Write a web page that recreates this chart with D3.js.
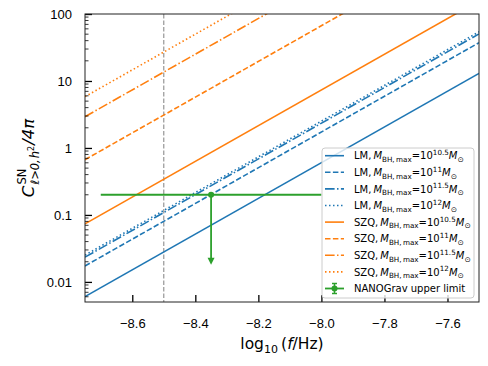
<!DOCTYPE html>
<html>
<head>
<meta charset="utf-8">
<script src="https://cdn.jsdelivr.net/npm/d3@7"></script>
<style>
  body { margin: 0; background: #fff; }
  svg { font-family: "DejaVu Sans", sans-serif; }
</style>
</head>
<body>
<div id="chart"></div>
<script>
// DATA ----------------------------------------------
// log10 f at both ends of the plotted range
const logF = [-8.75, -7.5];
// C at the two ends, for M_BH,max = 10^10.5, 10^11, 10^11.5, 10^12
const massExp = ["10.5", "11", "11.5", "12"];
const lmStart = [0.00604, 0.0173, 0.0234, 0.0251];
const lmEnd = [13.0, 37.3, 50.4, 54.2];
const szqStart = [0.0735, 0.668, 2.93, 5.83];
const szqEnd = [158, 1440, 6290, 12500];
// NANOGrav upper limit
const nanoF = -8.35, nanoC = 0.2, nanoFerr = [-8.70, -8.0], nanoArrowTo = 0.018;
const refLogF = -8.5;
const xTicks = [-8.6, -8.4, -8.2, -8.0, -7.8, -7.6];
const yTicks = [0.01, 0.1, 1, 10, 100];
const yTickLabels = ["0.01", "0.1", "1", "10", "100"];

// LAYOUT --------------------------------------------
const W = 488, H = 366;
const plot = {left: 85, right: 479, top: 14, bottom: 302};
const blue = "#1f77b4", orange = "#ff7f0e", green = "#2ca02c";
const dashes = ["", "5.5,2.4", "9.6,2.4,1.5,2.4", "1.5,2.5"];

const x = d3.scaleLinear().domain([-8.75, -7.5]).range([plot.left, plot.right]);
const y = d3.scaleLog().domain([Math.pow(10, -2.3), 100]).range([plot.bottom, plot.top]);

const svg = d3.select("#chart").append("svg")
    .attr("width", W).attr("height", H);

svg.append("clipPath").attr("id", "clip")
  .append("rect")
    .attr("x", plot.left).attr("y", plot.top)
    .attr("width", plot.right - plot.left).attr("height", plot.bottom - plot.top);

const g = svg.append("g").attr("clip-path", "url(#clip)");

// series lines
const series = [];
massExp.forEach((m, i) => series.push({name: "LM", m, color: blue, dash: dashes[i], p: [lmStart[i], lmEnd[i]]}));
massExp.forEach((m, i) => series.push({name: "SZQ", m, color: orange, dash: dashes[i], p: [szqStart[i], szqEnd[i]]}));

const line = d3.line().x(d => x(d[0])).y(d => y(d[1]));

// reference line at log f = -8.5
g.append("line")
    .attr("x1", x(refLogF)).attr("x2", x(refLogF))
    .attr("y1", plot.top).attr("y2", plot.bottom)
    .attr("stroke", "#808080").attr("stroke-width", 1)
    .attr("stroke-dasharray", "4.5,2");

g.selectAll("path.series")
  .data(series)
  .enter().append("path")
    .attr("class", "series")
    .attr("d", d => line(logF.map((f, k) => [f, d.p[k]])))
    .attr("fill", "none")
    .attr("stroke", d => d.color)
    .attr("stroke-width", 1.6)
    .attr("stroke-dasharray", d => d.dash);

// NANOGrav limit
const ng = g.append("g");
ng.append("line")
    .attr("x1", x(nanoFerr[0])).attr("x2", x(nanoFerr[1]))
    .attr("y1", y(nanoC)).attr("y2", y(nanoC))
    .attr("stroke", green).attr("stroke-width", 1.8);
ng.append("line")
    .attr("x1", x(nanoF)).attr("x2", x(nanoF))
    .attr("y1", y(nanoC)).attr("y2", y(nanoArrowTo) - 3)
    .attr("stroke", green).attr("stroke-width", 1.8);
ng.append("path")
    .attr("d", `M${x(nanoF) - 3.5},${y(nanoArrowTo) - 7} L${x(nanoF) + 3.5},${y(nanoArrowTo) - 7} L${x(nanoF)},${y(nanoArrowTo)} Z`)
    .attr("fill", green);
ng.append("circle")
    .attr("cx", x(nanoF)).attr("cy", y(nanoC)).attr("r", 3)
    .attr("fill", green);

// AXES ----------------------------------------------
const xAxis = d3.axisBottom(x).tickValues(xTicks)
    .tickSizeInner(-7).tickSizeOuter(0).tickPadding(17)
    .tickFormat(d3.format(".1f"));
const gx = svg.append("g").attr("transform", `translate(0,${plot.bottom})`).call(xAxis);
gx.select(".domain").remove();
gx.selectAll(".tick line").attr("stroke-width", 1.3);
gx.selectAll("text").attr("font-size", 13).attr("fill", "#000");

// y minor ticks
const minor = [];
for (let e = -3; e < 2; e++) for (let k = 2; k <= 9; k++) {
  const v = k * Math.pow(10, e);
  if (v >= y.domain()[0] && v <= 100) minor.push(v);
}
svg.append("g").selectAll("line")
  .data(minor).enter().append("line")
    .attr("x1", plot.left).attr("x2", plot.left + 3.5)
    .attr("y1", d => y(d)).attr("y2", d => y(d))
    .attr("stroke", "#000").attr("stroke-width", 0.8);

const yAxis = d3.axisLeft(y).tickValues(yTicks)
    .tickSizeInner(-7).tickSizeOuter(0).tickPadding(13)
    .tickFormat((d, i) => yTickLabels[i]);
const gy = svg.append("g").attr("transform", `translate(${plot.left},0)`).call(yAxis);
gy.select(".domain").remove();
gy.selectAll(".tick line").attr("stroke-width", 1.3);
gy.selectAll("text").attr("font-size", 13).attr("fill", "#000");

// frame
svg.append("rect")
    .attr("x", plot.left).attr("y", plot.top)
    .attr("width", plot.right - plot.left).attr("height", plot.bottom - plot.top)
    .attr("fill", "none").attr("stroke", "#222").attr("stroke-width", 1);

// x label: log10 (f/Hz)
const xl = svg.append("text")
    .attr("x", (plot.left + plot.right) / 2).attr("y", 349)
    .attr("text-anchor", "middle").attr("font-size", 15.5);
xl.append("tspan").text("log");
xl.append("tspan").attr("dy", 4).attr("font-size", 11).text("10");
xl.append("tspan").attr("dy", -4).text("\u2009(");
xl.append("tspan").attr("font-style", "italic").text("f");
xl.append("tspan").text("/Hz)");

// y label: C^SN_{l>0,h^2}/4pi, laid out piece by piece then rotated
const yl = svg.append("g")
    .attr("transform", `translate(34,${(plot.top + plot.bottom) / 2}) rotate(-90)`);
const pieces = [];
const addPiece = (txt, size, dy, italic) => {
  const t = yl.append("text").attr("font-size", size).attr("y", dy).text(txt);
  if (italic) t.attr("font-style", "italic");
  pieces.push(t);
  return t;
};
const cT = addPiece("C", 16.5, 0, true);
let cx = cT.node().getComputedTextLength() + 1;
const supT = addPiece("SN", 11.5, -8, false).attr("x", cx);
const subT = addPiece("\u2113>0,", 11.5, 5, true).attr("x", cx);
let sx = cx + subT.node().getComputedTextLength() + 1;
const hT = addPiece("h", 11.5, 5, true).attr("x", sx);
sx += hT.node().getComputedTextLength();
const h2 = addPiece("2", 8, 0, false).attr("x", sx);
sx += h2.node().getComputedTextLength() + 1;
const endX = Math.max(sx, cx + supT.node().getComputedTextLength());
const restT = addPiece("/4\u03c0", 16.5, 0, true).attr("x", endX);
const total = endX + restT.node().getComputedTextLength();
pieces.forEach(p => p.attr("x", +(p.attr("x") || 0) - total / 2));

// LEGEND --------------------------------------------
const leg = {x: 322, y: 148, w: 152, h: 150, row: 16.6, first: 155.7};
svg.append("rect")
    .attr("x", leg.x).attr("y", leg.y).attr("width", leg.w).attr("height", leg.h)
    .attr("rx", 3)
    .attr("fill", "#fff").attr("fill-opacity", 0.8)
    .attr("stroke", "#ccc").attr("stroke-width", 1);

const items = svg.append("g").selectAll("g")
  .data(series).enter().append("g")
    .attr("transform", (d, i) => `translate(0,${leg.first + i * leg.row})`);
items.append("line")
    .attr("x1", 325).attr("x2", 344)
    .attr("stroke", d => d.color).attr("stroke-width", 1.6)
    .attr("stroke-dasharray", d => d.dash);
const lt = items.append("text").attr("x", 354).attr("y", 3.7).attr("font-size", 10);
lt.append("tspan").text(d => d.name + ",\u2009");
lt.append("tspan").attr("font-style", "italic").text("M");
lt.append("tspan").attr("dy", 2.5).attr("font-size", 7.2).text("BH,\u2009max");
lt.append("tspan").attr("dy", -2.5).text("=10");
lt.append("tspan").attr("dy", -4.2).attr("font-size", 7.2).text(d => d.m);
lt.append("tspan").attr("dy", 4.2).attr("font-style", "italic").text("M");
lt.append("tspan").attr("dy", 2.5).attr("font-size", 7.5).text("\u2299");

// NANOGrav legend entry
const ny = leg.first + series.length * leg.row;
const nl = svg.append("g").attr("transform", `translate(0,${ny})`);
nl.append("line").attr("x1", 325).attr("x2", 344).attr("stroke", green).attr("stroke-width", 1.8);
nl.append("line").attr("x1", 334.5).attr("x2", 334.5).attr("y1", -5).attr("y2", 5).attr("stroke", green).attr("stroke-width", 1.5);
nl.append("line").attr("x1", 332).attr("x2", 337).attr("y1", -5).attr("y2", -5).attr("stroke", green).attr("stroke-width", 1.5);
nl.append("line").attr("x1", 332).attr("x2", 337).attr("y1", 5).attr("y2", 5).attr("stroke", green).attr("stroke-width", 1.5);
nl.append("circle").attr("cx", 334.5).attr("cy", 0).attr("r", 3).attr("fill", green);
nl.append("text").attr("x", 354).attr("y", 3.7).attr("font-size", 10).text("NANOGrav upper limit");
</script>
</body>
</html>
